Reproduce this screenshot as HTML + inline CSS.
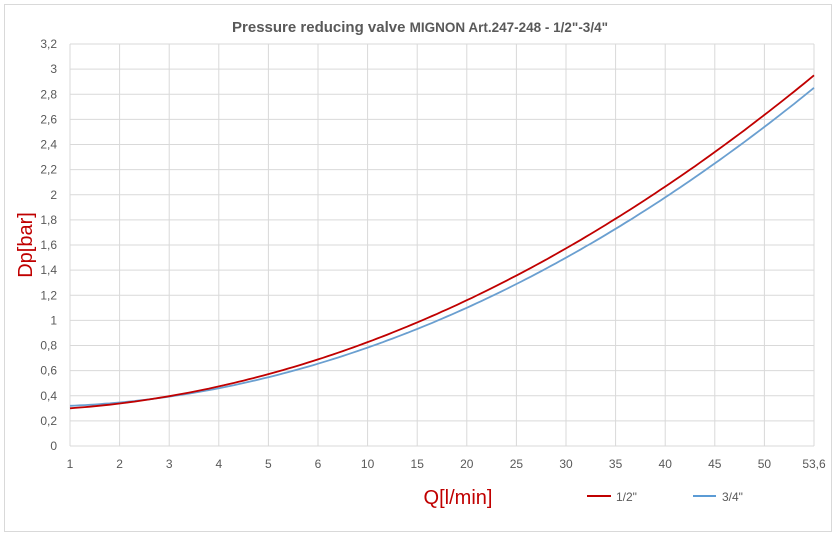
<!DOCTYPE html>
<html><head><meta charset="utf-8"><style>
body{margin:0;background:#fff;}
svg{display:block;font-family:"Liberation Sans",Arial,sans-serif;}
</style></head><body>
<svg id="s" width="837" height="536" xmlns="http://www.w3.org/2000/svg">
<rect x="0" y="0" width="837" height="536" fill="#fff"/>
<rect x="4.5" y="4.5" width="827" height="527" fill="#fff" stroke="#d9d9d9"/>
<text x="420" y="32" text-anchor="middle" font-size="15" font-weight="bold" fill="#595959">Pressure reducing valve <tspan font-size="13.5">MIGNON Art.247-248 - 1/2"-3/4"</tspan></text>
<g id="grid" stroke="#d9d9d9" stroke-width="1"></g>
<g id="ylab" font-size="12" fill="#595959" text-anchor="end"></g>
<g id="xlab" font-size="12" fill="#595959" text-anchor="middle"></g>
<text x="32" y="245" font-size="20" fill="#c00000" text-anchor="middle" transform="rotate(-90 32 245)">Dp[bar]</text>
<text x="458" y="504" font-size="20" fill="#c00000" text-anchor="middle">Q[l/min]</text>
<line x1="587" y1="496" x2="611" y2="496" stroke="#c00000" stroke-width="2"/>
<text x="616" y="501" font-size="12" fill="#595959">1/2"</text>
<line x1="693" y1="496" x2="716" y2="496" stroke="#5b9bd5" stroke-width="2"/>
<text x="722" y="501" font-size="12" fill="#595959">3/4"</text>
<path id="blue" fill="none" stroke="#6a9fd0" stroke-width="1.8"/>
<path id="red" fill="none" stroke="#c00000" stroke-width="1.8"/>
</svg>
<script>
var L=70,R=814,T=44,B=446,ns="http://www.w3.org/2000/svg";
var g=document.getElementById('grid'),yl=document.getElementById('ylab'),xl=document.getElementById('xlab');
function el(p,t,a,txt){var e=document.createElementNS(ns,t);for(var k in a)e.setAttribute(k,a[k]);if(txt!=null)e.textContent=txt;p.appendChild(e);}
for(var i=0;i<=16;i++){var y=B-(B-T)*i/16;el(g,'line',{x1:L,x2:R,y1:y,y2:y});
var v=(i*0.2).toFixed(1).replace('.0','').replace('.',',');el(yl,'text',{x:57,y:y+4},v);}
var xs=['1','2','3','4','5','6','10','15','20','25','30','35','40','45','50','53,6'];
for(var i=0;i<16;i++){var x=L+(R-L)*i/15;el(g,'line',{x1:x,x2:x,y1:T,y2:B});el(xl,'text',{x:x,y:468},xs[i]);}
function path(c0,a,b){var d='';for(var t=0;t<=150;t++){var i=t/10,v=c0+a*i+b*i*i;var x=L+(R-L)*i/15,y=B-(B-T)*v/3.2;d+=(t?'L':'M')+x.toFixed(1)+','+y.toFixed(1);}return d;}
document.getElementById('red').setAttribute('d',path(0.30,0.0285,0.00988));
document.getElementById('blue').setAttribute('d',path(0.32,0.0162,0.01017));
</script>
</body></html>
